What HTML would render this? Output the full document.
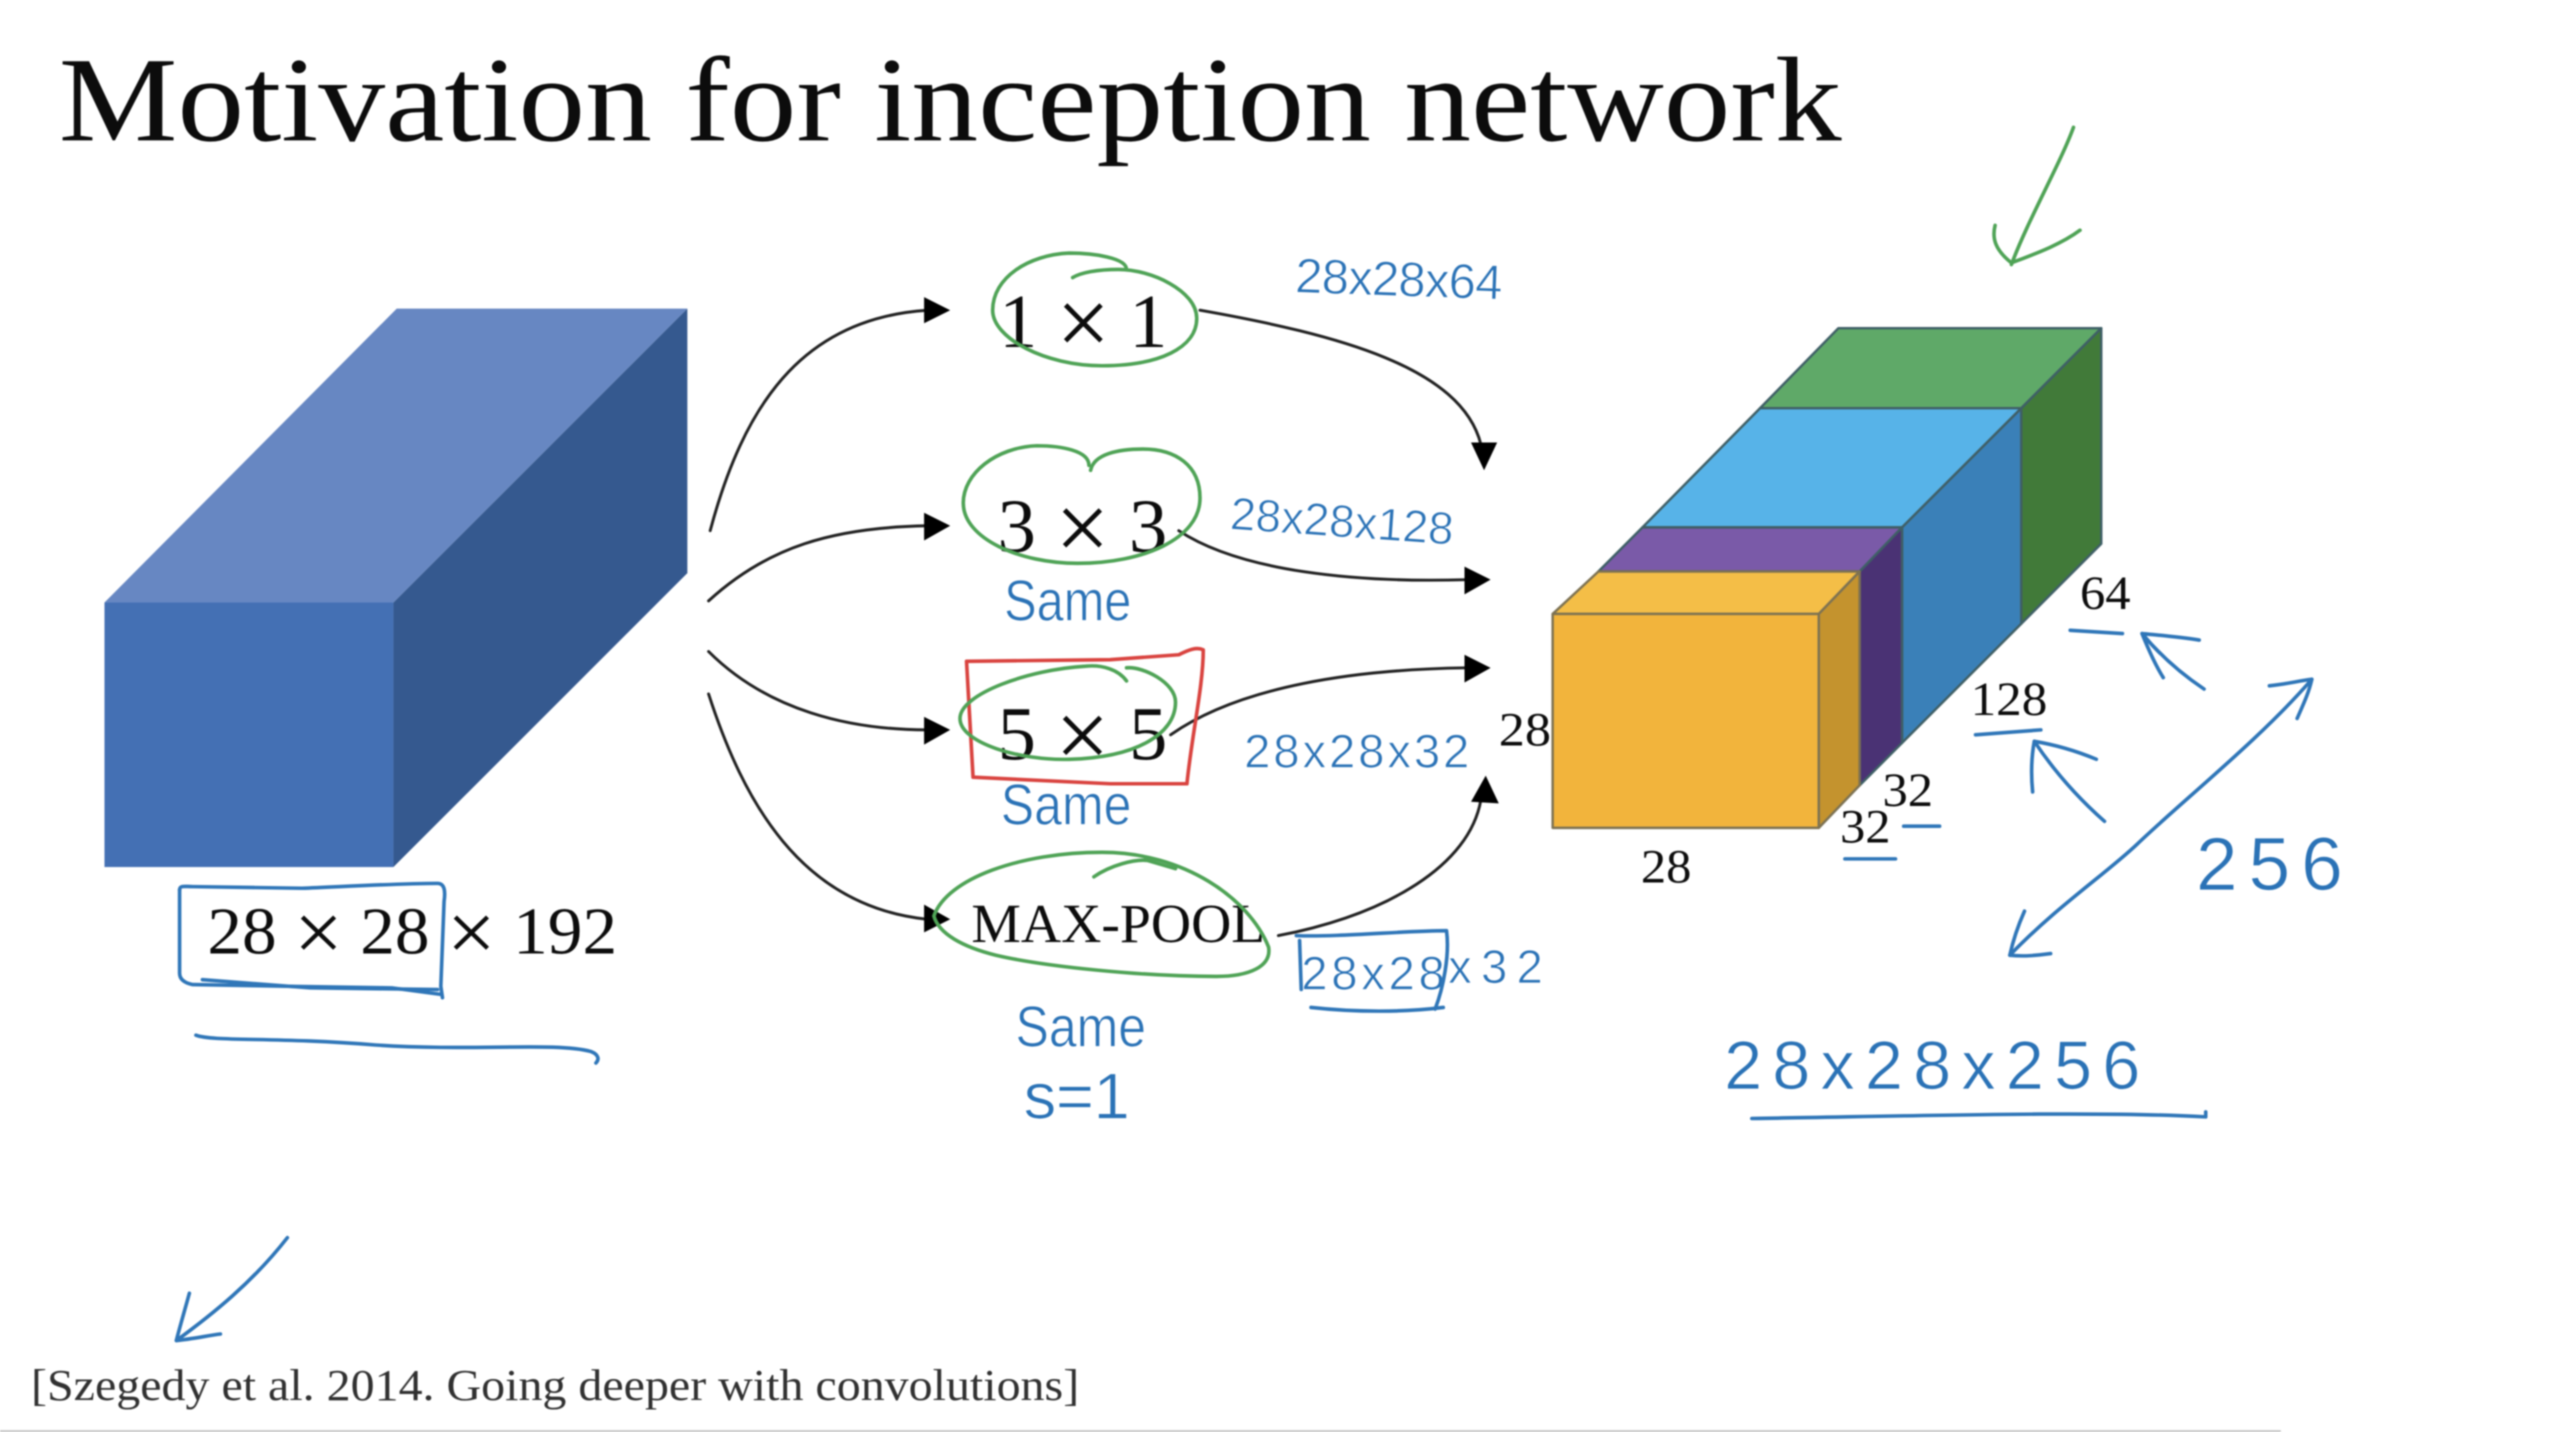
<!DOCTYPE html>
<html lang="en">
<head>
<meta charset="utf-8">
<title>Motivation for inception network</title>
<style>
html,body{margin:0;padding:0;background:#fff;width:2560px;height:1432px;overflow:hidden}
svg{display:block;filter:blur(0.7px)}
.s{font-family:"Liberation Serif",serif;fill:#0c0c0c}
.h{font-family:"Liberation Sans",sans-serif;fill:#2a72b6;stroke:#fff;stroke-width:0.5}
.b{fill:none;stroke:#2f76b8;stroke-width:2.2;stroke-linecap:round;stroke-linejoin:round}
.g{fill:none;stroke:#4fa356;stroke-width:2.2;stroke-linecap:round;stroke-linejoin:round}
.r{fill:none;stroke:#d9433f;stroke-width:2.2;stroke-linecap:round;stroke-linejoin:round}
.k{fill:none;stroke:#222;stroke-width:1.8;stroke-linecap:round}
.x{font-size:1.25em;baseline-shift:-0.08em}
</style>
</head>
<body>
<svg xmlns="http://www.w3.org/2000/svg" width="2560" height="1432" viewBox="0 0 1568 877" preserveAspectRatio="none">
<rect width="1568" height="877" fill="#fff"/>
<line x1="0" y1="876.4" x2="1397" y2="876.4" stroke="#bbb" stroke-width="1"/>

<text class="s" x="36" y="86" font-size="74" textLength="1092" lengthAdjust="spacingAndGlyphs">Motivation for inception network</text>

<!-- left cuboid -->
<polygon points="64,369 243,189 421,189 241,369" fill="#6787c2"/>
<polygon points="241,369 421,189 421,351 241,531" fill="#35598f"/>
<rect x="64" y="369" width="177" height="162" fill="#4470b4"/>

<text class="s" x="127" y="584" font-size="41" textLength="251" lengthAdjust="spacingAndGlyphs">28 <tspan class="x">×</tspan> 28 <tspan class="x">×</tspan> 192</text>
<path class="b" d="M110 545 C110 542,113 543,118 543 L185 544 C210 543,245 541,268 541 C272 541,273 545,272 552 L270 604 L271 611"/>
<path class="b" d="M110 545 L110 596 C110 600,113 602,118 603 L175 604 L240 605 L270 609"/>
<path class="b" d="M124 600 L190 605 L268 606"/>
<path class="b" d="M120 634 C130 638,170 635,230 640 C290 644,340 638,362 644 C367 646,367 649,365 651"/>

<!-- black input curves -->
<path class="k" d="M435 325 C455 250,490 195,568 190"/>
<polygon points="582,190 566,182 566,198" fill="#000"/>
<path class="k" d="M434 368 C470 335,510 323,568 322"/>
<polygon points="582,322 566,314 566,331" fill="#000"/>
<path class="k" d="M434 399 C470 435,520 447,568 447"/>
<polygon points="582,447 566,439 566,456" fill="#000"/>
<path class="k" d="M434 425 C455 490,490 555,568 563"/>
<polygon points="582,563 566,554 566,571" fill="#000"/>

<!-- black output curves -->
<path class="k" d="M735 190 C820 205,895 225,907 272"/>
<polygon points="909,288 901,271 917,271" fill="#000"/>
<path class="k" d="M722 325 C760 350,830 357,898 355"/>
<polygon points="913,355 897,347 897,364" fill="#000"/>
<path class="k" d="M717 450 C760 420,830 410,898 409"/>
<polygon points="913,409 897,401 897,418" fill="#000"/>
<path class="k" d="M783 573 C850 560,900 530,907 490"/>
<polygon points="910,475 901,491 918,492" fill="#000"/>

<!-- operation labels -->
<text class="s" x="612" y="212.5" font-size="47" textLength="103" lengthAdjust="spacingAndGlyphs">1 <tspan class="x">×</tspan> 1</text>
<text class="s" x="611" y="338" font-size="47" textLength="104" lengthAdjust="spacingAndGlyphs">3 <tspan class="x">×</tspan> 3</text>
<text class="s" x="611" y="465" font-size="47" textLength="104" lengthAdjust="spacingAndGlyphs">5 <tspan class="x">×</tspan> 5</text>
<text class="s" x="595" y="577" font-size="34" textLength="180" lengthAdjust="spacingAndGlyphs">MAX-POOL</text>

<!-- green / red marks -->
<path class="g" d="M690 165 C690 158,670 155,655 155 C630 156,608 170,608 190 C608 207,640 224,675 224 C710 224,733 213,733 195 C733 178,705 165,685 165 C672 165,662 167,657 170"/>
<path class="g" d="M667 285 C667 276,650 273,635 273 C610 274,590 290,590 308 C590 330,625 345,660 345 C700 345,735 330,735 305 C735 285,720 275,700 275 C685 275,670 278,668 288"/>
<path class="r" d="M592 405 L680 404 L722 401 C728 398,733 396,737 398 C737 420,730 450,727 480 L680 480 L596 476 L592 405"/>
<path class="g" d="M690 417 C685 410,675 407,665 408 C630 410,588 425,588 440 C588 455,625 466,655 465 C695 464,720 450,720 430 C720 418,700 408,690 409"/>
<path class="g" d="M572 561 C580 538,625 522,675 522 C725 522,765 550,777 580 C779 592,765 598,745 598 C700 598,640 592,610 585 C590 580,575 572,572 561 Z"/>
<path class="g" d="M670 537 C680 530,695 526,703 527 L720 532"/>
<path class="g" d="M1270 78 C1262 100,1242 135,1232 162 M1222 138 C1220 146,1222 153,1232 161 C1245 156,1262 150,1274 141"/>

<!-- right stacked block -->
<g stroke="#3f5f66" stroke-width="1.5" stroke-linejoin="round">
<polygon points="1126,201 1287,201 1238,250 1078,250" fill="#5fa968"/>
<polygon points="1287,201 1287,333 1238,382 1238,250" fill="#417a39"/>
<polygon points="1078,250 1238,250 1165,323 1006,323" fill="#57b3e8"/>
<polygon points="1238,250 1238,382 1165,455 1165,323" fill="#3a80b8"/>
<polygon points="1006,323 1165,323 1139,350 979,350" fill="#7a5aa8"/>
<polygon points="1165,323 1165,455 1139,481 1139,350" fill="#4a3274"/>
</g>
<g stroke="#7d7252" stroke-width="1.5" stroke-linejoin="round">
<polygon points="979,350 1139,350 1114,376 951,376" fill="#f4be47"/>
<polygon points="1139,350 1139,481 1114,507 1114,376" fill="#c4932e"/>
<rect x="951" y="376" width="163" height="131" fill="#f2b43c"/>
</g>

<!-- dimension labels -->
<text class="s" x="918" y="456.5" font-size="29" textLength="32" lengthAdjust="spacingAndGlyphs">28</text>
<text class="s" x="1005" y="540.5" font-size="29" textLength="31" lengthAdjust="spacingAndGlyphs">28</text>
<text class="s" x="1153" y="493.5" font-size="29" textLength="31" lengthAdjust="spacingAndGlyphs">32</text>
<text class="s" x="1127" y="516" font-size="29" textLength="31" lengthAdjust="spacingAndGlyphs">32</text>
<text class="s" x="1207" y="438" font-size="29" textLength="47" lengthAdjust="spacingAndGlyphs">128</text>
<text class="s" x="1274" y="373" font-size="29" textLength="31" lengthAdjust="spacingAndGlyphs">64</text>

<!-- blue handwriting -->
<text class="h" x="793" y="179" font-size="30" textLength="127" lengthAdjust="spacing" transform="rotate(2 793 179)">28x28x64</text>
<text class="h" x="753" y="324" font-size="28" textLength="137" lengthAdjust="spacing" transform="rotate(4 753 324)">28x28x128</text>
<text class="h" x="762" y="470" font-size="29" textLength="138" lengthAdjust="spacing">28x28x32</text>
<text class="h" x="797" y="606" font-size="29" textLength="88" lengthAdjust="spacing">28x28</text>
<text class="h" x="887" y="602" font-size="29" textLength="58" lengthAdjust="spacing">x32</text>
<text class="h" x="615" y="380" font-size="35" textLength="78" lengthAdjust="spacingAndGlyphs">Same</text>
<text class="h" x="613" y="505" font-size="35" textLength="80" lengthAdjust="spacingAndGlyphs">Same</text>
<text class="h" x="622" y="641" font-size="35" textLength="80" lengthAdjust="spacingAndGlyphs">Same</text>
<text class="h" x="627" y="685" font-size="40" textLength="65" lengthAdjust="spacing">s=1</text>
<text class="h" x="1345" y="545" font-size="46" textLength="90" lengthAdjust="spacing">256</text>
<text class="h" x="1056" y="667" font-size="42" textLength="255" lengthAdjust="spacing">28x28x256</text>

<path class="b" d="M794 573 C820 574,860 570,886 570 C888 585,884 605,879 618 M796 576 L797 606 M803 617 C830 620,860 620,884 617"/>
<path class="b" d="M1073 685 C1150 684,1280 680,1351 684 L1351 681"/>
<path class="b" d="M1268 386 L1300 388"/>
<path class="b" d="M1350 422 C1335 412,1322 400,1312 388 M1347 392 C1335 390,1322 389,1312 388 C1316 398,1320 407,1325 415"/>
<path class="b" d="M1210 450 L1250 447"/>
<path class="b" d="M1289 503 C1272 488,1258 472,1246 454 M1284 465 C1272 460,1258 456,1246 454 C1244 465,1244 475,1245 485"/>
<path class="b" d="M1166 506 L1188 506"/>
<path class="b" d="M1130 526 L1161 526"/>
<path class="b" d="M1231 585 C1260 555,1290 535,1309 517 C1335 492,1385 452,1416 416 M1390 420 C1400 419,1408 417,1416 416 C1414 425,1410 433,1407 440 M1240 558 C1236 567,1233 576,1231 585 C1240 586,1248 585,1256 584"/>

<path class="b" d="M176 758 C155 785,130 805,108 821 M116 792 C113 803,110 813,108 821 C118 820,127 818,135 817"/>

<text class="s" x="19" y="857.5" font-size="27" fill-opacity="0.85" textLength="642" lengthAdjust="spacingAndGlyphs">[Szegedy et al. 2014. Going deeper with convolutions]</text>
</svg>
</body>
</html>
